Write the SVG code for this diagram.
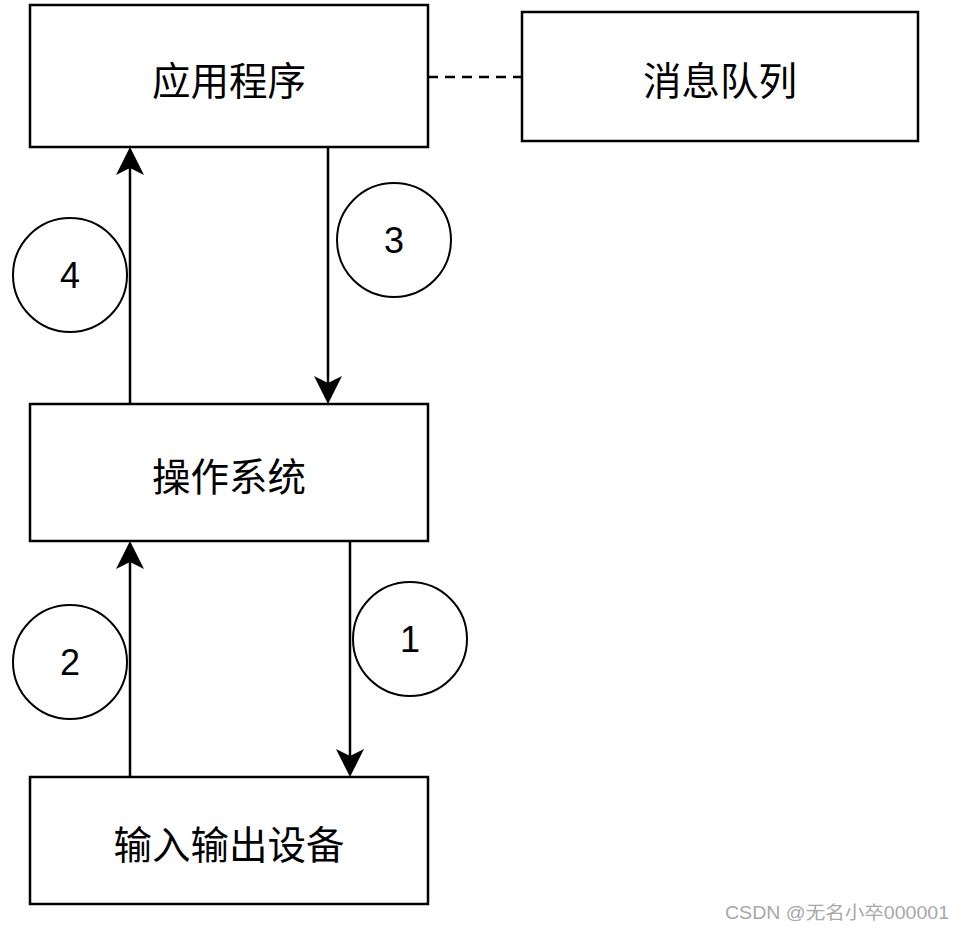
<svg xmlns="http://www.w3.org/2000/svg" width="964" height="932" viewBox="0 0 964 932">
<style>
.box{fill:#fff;stroke:#000;stroke-width:2.5}
.circ{fill:#fff;stroke:#000;stroke-width:2}
.lbl{font-family:"Noto Sans CJK SC","Noto Sans",sans-serif;font-size:38.5px;fill:#000;text-anchor:middle;dominant-baseline:central}
.num{font-family:"Liberation Sans",Arial,sans-serif;font-size:36px;fill:#000;text-anchor:middle;dominant-baseline:central}
.edge{fill:none;stroke:#000;stroke-width:2.5}
.dash{fill:none;stroke:#000;stroke-width:2.5;stroke-dasharray:10 7}
.wm{font-family:"Liberation Sans","Noto Sans CJK SC",sans-serif;font-size:18px;fill:#a8a8a8}
</style>
<defs>
<marker id="arr" markerUnits="userSpaceOnUse" markerWidth="30" markerHeight="30" viewBox="0 -15 30 30" refX="23" refY="0" orient="auto">
<path d="M28,0 L0,-14 L7,0 L0,14 Z" fill="#000"/>
</marker>
</defs>
<rect width="964" height="932" fill="#fff"/>
<g id="connectors">
<path class="dash" d="M428,77 L522,77"/>
<path class="edge" d="M130,404 L130,152" marker-end="url(#arr)"/>
<path class="edge" d="M328,147 L328,399" marker-end="url(#arr)"/>
<path class="edge" d="M130,777 L130,546" marker-end="url(#arr)"/>
<path class="edge" d="M350,537 L350,772" marker-end="url(#arr)"/>
</g>
<g id="app">
<rect class="box" x="30" y="5" width="398" height="142"/>
<text class="lbl" x="229" y="78">应用程序</text>
</g>
<g id="queue">
<rect class="box" x="522" y="12" width="396" height="129"/>
<text class="lbl" x="720" y="78">消息队列</text>
</g>
<g id="os">
<rect class="box" x="30" y="404" width="398" height="137"/>
<text class="lbl" x="229" y="474">操作系统</text>
</g>
<g id="io">
<rect class="box" x="30" y="777" width="398" height="127"/>
<text class="lbl" x="229" y="842">输入输出设备</text>
</g>
<g id="n4">
<circle class="circ" cx="70" cy="275" r="57"/>
<text class="num" x="70" y="275">4</text>
</g>
<g id="n3">
<circle class="circ" cx="394" cy="240" r="57"/>
<text class="num" x="394" y="240">3</text>
</g>
<g id="n2">
<circle class="circ" cx="70" cy="662" r="57"/>
<text class="num" x="70" y="662">2</text>
</g>
<g id="n1">
<circle class="circ" cx="410" cy="639" r="57"/>
<text class="num" x="410" y="639">1</text>
</g>
<text class="wm" x="725" y="919" textLength="224" lengthAdjust="spacingAndGlyphs">CSDN @无名小卒000001</text>
</svg>
